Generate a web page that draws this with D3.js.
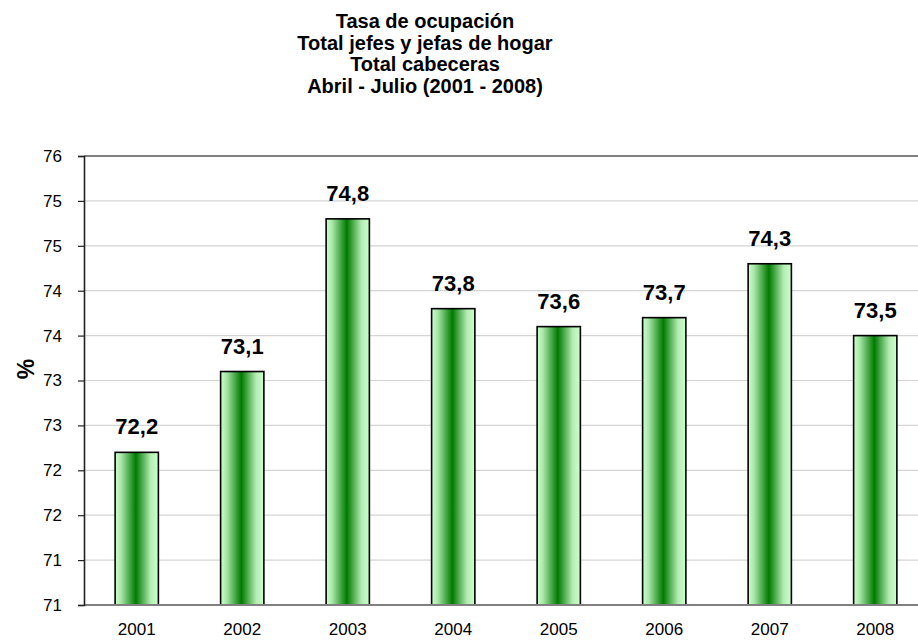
<!DOCTYPE html>
<html>
<head>
<meta charset="utf-8">
<script src="https://cdn.jsdelivr.net/npm/d3@7"></script>
<style>
  html, body { margin: 0; padding: 0; background: #fff; }
  svg { display: block; font-family: Arial, "Liberation Sans", sans-serif; }
</style>
</head>
<body>
<svg id="chart" width="918" height="640"></svg>
<script>
// ---- data ----
const years = ["2001", "2002", "2003", "2004", "2005", "2006", "2007", "2008"];
const values = [72.2, 73.1, 74.8, 73.8, 73.6, 73.7, 74.3, 73.5];
const valueLabels = ["72,2", "73,1", "74,8", "73,8", "73,6", "73,7", "74,3", "73,5"];
const yTicks = [70.5, 71, 71.5, 72, 72.5, 73, 73.5, 74, 74.5, 75, 75.5];
const yTickLabels = ["71", "71", "72", "72", "73", "73", "74", "74", "75", "75", "76"];
const titleLines = ["Tasa de ocupación", "Total jefes y jefas de hogar", "Total cabeceras", "Abril - Julio (2001 - 2008)"];
const yAxisTitle = "%";

// ---- layout ----
const svg = d3.select("#chart");
const plotL = 84, plotR = 928, plotT = 156, plotB = 605;

const x = d3.scaleBand().domain(years).range([plotL, plotR]).paddingInner(0.59).paddingOuter(0.295);
const y = d3.scaleLinear().domain([70.5, 75.5]).range([plotB, plotT]);

// gradient
const defs = svg.append("defs");
const grad = defs.append("linearGradient").attr("id", "barGrad")
  .attr("x1", "0%").attr("x2", "100%").attr("y1", "0%").attr("y2", "0%");
grad.append("stop").attr("offset", "0%").attr("stop-color", "#ccffcc");
grad.append("stop").attr("offset", "14%").attr("stop-color", "#a8e6a8");
grad.append("stop").attr("offset", "48%").attr("stop-color", "#007a00");
grad.append("stop").attr("offset", "82%").attr("stop-color", "#b4ecb4");
grad.append("stop").attr("offset", "100%").attr("stop-color", "#ccffcc");

// gridlines
svg.append("g").selectAll("line").data(yTicks.slice(1, -1)).join("line")
  .attr("x1", plotL).attr("x2", plotR)
  .attr("y1", d => y(d)).attr("y2", d => y(d))
  .attr("stroke", "#d4d4d4").attr("stroke-width", 1.2);

// top border
svg.append("line").attr("x1", plotL).attr("x2", plotR)
  .attr("y1", y(75.5)).attr("y2", y(75.5))
  .attr("stroke", "#808080").attr("stroke-width", 2);

// bars
svg.append("g").selectAll("rect").data(values).join("rect")
  .attr("x", (d, i) => x(years[i]))
  .attr("width", x.bandwidth())
  .attr("y", d => y(d))
  .attr("height", d => y(70.5) - y(d))
  .attr("fill", "url(#barGrad)")
  .attr("stroke", "#000").attr("stroke-width", 1.6);

// x axis line
svg.append("line").attr("x1", plotL).attr("x2", plotR)
  .attr("y1", plotB).attr("y2", plotB)
  .attr("stroke", "#808080").attr("stroke-width", 2);

// y axis
const yAxis = d3.axisLeft(y).tickValues(yTicks)
  .tickFormat((d, i) => yTickLabels[i]).tickSize(6).tickPadding(16);
const gy = svg.append("g").attr("transform", `translate(${plotL},0)`).call(yAxis);
gy.select(".domain").attr("stroke", "#222").attr("stroke-width", 1.6);
gy.selectAll(".tick line").attr("stroke", "#222").attr("stroke-width", 1.2);
gy.selectAll(".tick text").attr("font-size", 17).attr("fill", "#000")
  .attr("font-family", "Arial, 'Liberation Sans', sans-serif");

// x labels
const xAxis = d3.axisBottom(x).tickSize(0).tickPadding(18);
const gx = svg.append("g").attr("transform", `translate(0,${plotB})`).call(xAxis);
gx.select(".domain").remove();
gx.selectAll(".tick text").attr("font-size", 17).attr("fill", "#000")
  .attr("font-family", "Arial, 'Liberation Sans', sans-serif");

// value labels
svg.append("g").selectAll("text").data(values).join("text")
  .attr("x", (d, i) => x(years[i]) + x.bandwidth() / 2)
  .attr("y", d => y(d) - 18)
  .attr("text-anchor", "middle")
  .attr("font-size", 22).attr("font-weight", "bold").attr("fill", "#000")
  .text((d, i) => valueLabels[i]);

// y axis title
svg.append("text")
  .attr("transform", "translate(34,369) rotate(-90)")
  .attr("text-anchor", "middle")
  .attr("font-size", 23).attr("font-weight", "bold")
  .text(yAxisTitle);

// title
svg.append("g").selectAll("text").data(titleLines).join("text")
  .attr("x", 425).attr("y", (d, i) => 28 + i * 21.7)
  .attr("text-anchor", "middle")
  .attr("font-size", 20).attr("font-weight", "bold")
  .text(d => d);
</script>
</body>
</html>
